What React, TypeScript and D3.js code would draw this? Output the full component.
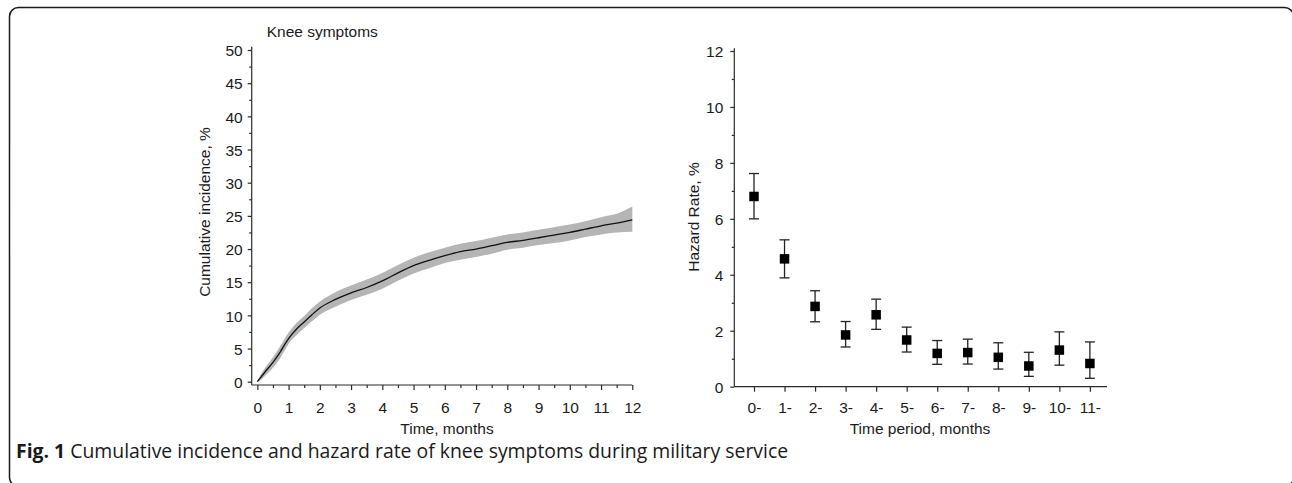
import React, { useEffect, useRef } from "react";
import * as d3 from "d3";

// Cumulative incidence curve
const months = [0, 0.1, 0.25, 0.5, 0.75, 0.85, 1, 1.25, 1.5, 1.75, 2, 2.5, 3, 3.5, 4, 4.5, 5, 5.5, 6, 6.5, 7, 7.5, 8, 8.5, 9, 9.5, 10, 10.5, 11, 11.5, 12];
const incidence = [0, 0.6, 1.5, 2.9, 4.6, 5.4, 6.5, 7.9, 9.0, 10.1, 11.1, 12.4, 13.4, 14.2, 15.2, 16.4, 17.5, 18.3, 19.0, 19.6, 20.0, 20.5, 21.0, 21.3, 21.7, 22.1, 22.5, 23.0, 23.5, 23.9, 24.4];
const incLower = [0, 0.2, 0.9, 2.1, 3.7, 4.5, 5.7, 7.0, 8.1, 9.1, 10.1, 11.3, 12.3, 13.1, 14.0, 15.2, 16.3, 17.1, 17.9, 18.4, 18.8, 19.3, 19.9, 20.2, 20.6, 20.9, 21.3, 21.8, 22.2, 22.5, 22.6];
const incUpper = [0, 1.0, 2.1, 3.7, 5.5, 6.3, 7.4, 8.8, 9.9, 11.1, 12.1, 13.5, 14.5, 15.4, 16.4, 17.6, 18.7, 19.5, 20.2, 20.8, 21.2, 21.7, 22.2, 22.5, 22.9, 23.3, 23.7, 24.2, 24.8, 25.3, 26.4];

// Hazard rate by period
const periods = ["0-", "1-", "2-", "3-", "4-", "5-", "6-", "7-", "8-", "9-", "10-", "11-"];
const hazard = [6.8, 4.57, 2.87, 1.85, 2.57, 1.67, 1.19, 1.22, 1.05, 0.74, 1.31, 0.83];
const hazLower = [6.0, 3.89, 2.32, 1.42, 2.05, 1.24, 0.8, 0.81, 0.63, 0.37, 0.77, 0.3];
const hazUpper = [7.62, 5.25, 3.43, 2.33, 3.13, 2.13, 1.65, 1.7, 1.57, 1.23, 1.96, 1.6];

const incTicks = d3.range(0, 51, 5);
const incMinor = d3.range(2.5, 50, 5);
const monthTicks = d3.range(0, 13, 1);
const monthMinor = d3.range(0.5, 12, 1);
const hazTicks = [0, 2, 4, 6, 8, 10, 12];
const hazMinor = [1, 3, 5, 7, 9, 11];

const FONT = "'Liberation Sans', Arial, sans-serif";
const AXIS = "#2a2a2a";

export default function App() {
  const ref = useRef<SVGSVGElement>(null);

  useEffect(() => {
    if (!ref.current) return;
    const svg = d3.select(ref.current);
    svg.selectAll("*").remove();

    // frame
    svg
      .append("rect")
      .attr("x", 9.5)
      .attr("y", 7.5)
      .attr("width", 1284)
      .attr("height", 479)
      .attr("rx", 9)
      .attr("fill", "none")
      .attr("stroke", "#1a1a1a")
      .attr("stroke-width", 1.5);

    // ---------- left: cumulative incidence ----------
    const xL = d3.scaleLinear().domain([-0.18, 12]).range([251.7, 632.3]);
    const yL = d3.scaleLinear().domain([0, 50]).range([381.7, 50]);
    const left = svg.append("g");

    const band = d3
      .area<number>()
      .x((_, i) => xL(months[i]))
      .y0((_, i) => yL(incLower[i]))
      .y1((d) => yL(d))
      .curve(d3.curveMonotoneX);
    left.append("path").datum(incUpper).attr("fill", "#b5b5b5").attr("d", band);

    const line = d3
      .line<number>()
      .x((_, i) => xL(months[i]))
      .y((d) => yL(d))
      .curve(d3.curveMonotoneX);
    left
      .append("path")
      .datum(incidence)
      .attr("fill", "none")
      .attr("stroke", "#111")
      .attr("stroke-width", 1.3)
      .attr("d", line);

    // y axis
    const yAxL = left.append("g").attr("transform", "translate(251.7,0)");
    yAxL.call(d3.axisLeft(yL).tickValues(incTicks).tickSize(4).tickSizeOuter(0).tickFormat(d3.format("d")));
    yAxL.append("g").call(d3.axisLeft(yL).tickValues(incMinor).tickSize(2.5).tickFormat(() => ""));
    yAxL.selectAll(".domain").remove();
    yAxL.append("line").attr("y1", 46.7).attr("y2", 385);

    // x axis
    const xAxL = left.append("g").attr("transform", "translate(0,385)");
    xAxL.call(d3.axisBottom(xL).tickValues(monthTicks).tickSize(5).tickSizeOuter(0).tickFormat(d3.format("d")));
    xAxL.append("g").call(d3.axisBottom(xL).tickValues(monthMinor).tickSize(3).tickFormat(() => ""));
    xAxL.selectAll(".domain").remove();
    xAxL.append("line").attr("x1", 251.7).attr("x2", 632.3);

    [yAxL, xAxL].forEach((g) => {
      g.selectAll("line").attr("stroke", AXIS).attr("stroke-width", 1.2);
    });
    yAxL.selectAll("text").attr("x", -9).attr("dy", "0.37em");
    xAxL.selectAll("text").attr("y", 28.3).attr("dy", 0);

    left
      .append("text")
      .attr("x", 266.7)
      .attr("y", 36.7)
      .text("Knee symptoms");

    left
      .append("text")
      .attr("transform", "translate(210,212) rotate(-90)")
      .attr("text-anchor", "middle")
      .text("Cumulative incidence, %");

    left
      .append("text")
      .attr("x", 447)
      .attr("y", 434)
      .attr("text-anchor", "middle")
      .text("Time, months");

    // ---------- right: hazard rate ----------
    const xR = d3.scaleLinear().domain([-0.645, 11.56]).range([734.3, 1107]);
    const yR = d3.scaleLinear().domain([0, 12]).range([386.7, 51]);
    const right = svg.append("g");

    const yAxR = right.append("g").attr("transform", "translate(734.3,0)");
    yAxR.call(d3.axisLeft(yR).tickValues(hazTicks).tickSize(4).tickSizeOuter(0).tickFormat(d3.format("d")));
    yAxR.append("g").call(d3.axisLeft(yR).tickValues(hazMinor).tickSize(2.5).tickFormat(() => ""));
    yAxR.selectAll(".domain").remove();
    yAxR.append("line").attr("y1", 48.3).attr("y2", 386.7);

    const xAxR = right.append("g").attr("transform", "translate(0,386.7)");
    xAxR.call(
      d3
        .axisBottom(xR)
        .tickValues(d3.range(periods.length))
        .tickSize(5)
        .tickSizeOuter(0)
        .tickFormat((d) => periods[d as number])
    );
    xAxR.selectAll(".domain").remove();
    xAxR.append("line").attr("x1", 734.3).attr("x2", 1107);

    [yAxR, xAxR].forEach((g) => {
      g.selectAll("line").attr("stroke", AXIS).attr("stroke-width", 1.2);
    });
    yAxR.selectAll("text").attr("x", -11).attr("dy", "0.37em");
    xAxR.selectAll("text").attr("y", 26.6).attr("dy", 0);

    // error bars
    const cap = 5;
    const bars = right.append("g").attr("stroke", "#222").attr("stroke-width", 1.3);
    hazard.forEach((_, i) => {
      const cx = xR(i);
      bars.append("line").attr("x1", cx).attr("x2", cx).attr("y1", yR(hazLower[i])).attr("y2", yR(hazUpper[i]));
      bars.append("line").attr("x1", cx - cap).attr("x2", cx + cap).attr("y1", yR(hazLower[i])).attr("y2", yR(hazLower[i]));
      bars.append("line").attr("x1", cx - cap).attr("x2", cx + cap).attr("y1", yR(hazUpper[i])).attr("y2", yR(hazUpper[i]));
    });

    const sq = 9.5;
    right
      .append("g")
      .selectAll("rect")
      .data(hazard)
      .join("rect")
      .attr("x", (_, i) => xR(i) - sq / 2)
      .attr("y", (d) => yR(d) - sq / 2)
      .attr("width", sq)
      .attr("height", sq)
      .attr("fill", "#000");

    right
      .append("text")
      .attr("transform", "translate(699,217) rotate(-90)")
      .attr("text-anchor", "middle")
      .text("Hazard Rate, %");

    right
      .append("text")
      .attr("x", 920)
      .attr("y", 434)
      .attr("text-anchor", "middle")
      .text("Time period, months");

    svg
      .selectAll("text")
      .attr("font-family", FONT)
      .attr("font-size", 15.5)
      .attr("fill", "#1a1a1a");

    // caption
    const capText = svg
      .append("text")
      .attr("x", 16)
      .attr("y", 458)
      .attr("font-family", "'Open Sans', sans-serif")
      .attr("font-size", 19.4)
      .attr("fill", "#1a1a1a");
    capText.append("tspan").attr("font-weight", "bold").text("Fig. 1");
    capText.append("tspan").text(" Cumulative incidence and hazard rate of knee symptoms during military service");
  }, []);

  return (
    <svg
      ref={ref}
      width={1292}
      height={483}
      style={{ position: "absolute", left: 0, top: 0, background: "#fff" }}
    />
  );
}
